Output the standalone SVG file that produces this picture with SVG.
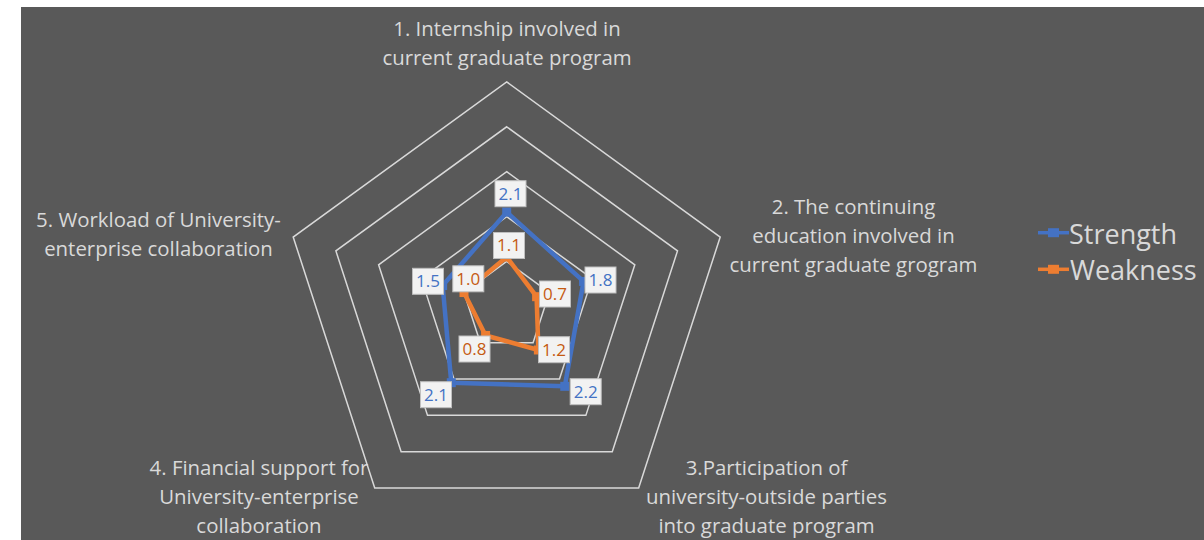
<svg xmlns="http://www.w3.org/2000/svg" width="1204" height="540" viewBox="0 0 1204 540">
<style>
.ring{fill:none;stroke:#d9d9d9;stroke-width:1.5}
.ax{font-family:"Open Sans","Noto Sans",sans-serif;font-size:20.4px;fill:#d9d9d9;text-anchor:middle}
.sb{fill:none;stroke:#4472C4;stroke-width:4.5;stroke-linejoin:round}
.so{fill:none;stroke:#ED7D31;stroke-width:4.5;stroke-linejoin:round}
.mb{fill:#4472C4}
.mo{fill:#ED7D31}
.box{fill:#f2f2f2;stroke:#bfbfbf;stroke-width:1}
.lb{font-family:"Open Sans","Noto Sans",sans-serif;font-size:17px;fill:#4472C4;text-anchor:middle}
.lo{font-family:"Open Sans","Noto Sans",sans-serif;font-size:17px;fill:#C55A11;text-anchor:middle}
.lg{font-family:"Open Sans","Noto Sans",sans-serif;font-size:27px;fill:#d9d9d9}
</style>
<rect x="0" y="0" width="1204" height="540" fill="#ffffff"/>
<rect x="21" y="7" width="1183" height="533" fill="#595959"/>
<g id="rings">
<polygon class="ring" points="506.7,261.5 549.4,292.53 533.09,342.72 480.31,342.72 464.0,292.53"/>
<polygon class="ring" points="506.7,216.6 592.11,278.65 559.48,379.05 453.92,379.05 421.29,278.65"/>
<polygon class="ring" points="506.7,171.7 634.81,264.78 585.87,415.37 427.53,415.37 378.59,264.78"/>
<polygon class="ring" points="506.7,126.8 677.51,250.9 612.27,451.7 401.13,451.7 335.89,250.9"/>
<polygon class="ring" points="506.7,81.9 720.21,237.03 638.66,488.02 374.74,488.02 293.19,237.03"/>
</g>
<g id="axis-labels">
<text class="ax" x="507" y="36">1. Internship involved in</text>
<text class="ax" x="507" y="64.5">current graduate program</text>
<text class="ax" x="853.5" y="214">2. The continuing</text>
<text class="ax" x="853.5" y="243">education involved in</text>
<text class="ax" x="853.5" y="272">current graduate grogram</text>
<text class="ax" x="766.5" y="475">3.Participation of</text>
<text class="ax" x="766.5" y="504">university-outside parties</text>
<text class="ax" x="766.5" y="533">into graduate program</text>
<text class="ax" x="259" y="475">4. Financial support for</text>
<text class="ax" x="259" y="504">University-enterprise</text>
<text class="ax" x="259" y="533">collaboration</text>
<text class="ax" x="158.5" y="227">5. Workload of University-</text>
<text class="ax" x="158.5" y="256">enterprise collaboration</text>
</g>
<g id="series-strength">
<polygon class="sb" points="506.7,212.11 583.57,281.43 564.76,386.31 451.28,382.68 442.65,285.59"/>
<rect class="mb" x="502.2" y="207.61" width="9" height="9"/>
<rect class="mb" x="579.07" y="276.93" width="9" height="9"/>
<rect class="mb" x="560.26" y="381.81" width="9" height="9"/>
<rect class="mb" x="446.78" y="378.18" width="9" height="9"/>
<rect class="mb" x="438.15" y="281.09" width="9" height="9"/>
</g>
<g id="series-weakness">
<polygon class="so" points="506.7,257.01 536.59,296.69 538.37,349.99 485.59,335.46 464.0,292.53"/>
<rect class="mo" x="502.2" y="252.51" width="9" height="9"/>
<rect class="mo" x="532.09" y="292.19" width="9" height="9"/>
<rect class="mo" x="533.87" y="345.49" width="9" height="9"/>
<rect class="mo" x="481.09" y="330.96" width="9" height="9"/>
<rect class="mo" x="459.5" y="288.03" width="9" height="9"/>
</g>
<g id="data-labels">
<rect class="box" x="495" y="180.7" width="31" height="26"/><text class="lb" x="510.5" y="199.6">2.1</text>
<rect class="box" x="585" y="267" width="31" height="26"/><text class="lb" x="600.5" y="285.9">1.8</text>
<rect class="box" x="570.2" y="378.7" width="31" height="26"/><text class="lb" x="585.7" y="397.6">2.2</text>
<rect class="box" x="420.5" y="381.7" width="31" height="26"/><text class="lb" x="436" y="400.6">2.1</text>
<rect class="box" x="412.5" y="268.3" width="31" height="26"/><text class="lb" x="428" y="287.2">1.5</text>
<rect class="box" x="493.5" y="232.5" width="31" height="26"/><text class="lo" x="509" y="251.4">1.1</text>
<rect class="box" x="539.5" y="281" width="31" height="26"/><text class="lo" x="555" y="299.9">0.7</text>
<rect class="box" x="538.5" y="336.7" width="31" height="26"/><text class="lo" x="554" y="355.6">1.2</text>
<rect class="box" x="459" y="336" width="31" height="26"/><text class="lo" x="474.5" y="354.9">0.8</text>
<rect class="box" x="452.8" y="265.8" width="31" height="26"/><text class="lo" x="468.3" y="284.7">1.0</text>
</g>
<g id="legend">
<line x1="1038" y1="232.7" x2="1069" y2="232.7" stroke="#4472C4" stroke-width="3.5"/>
<rect class="mb" x="1048" y="228.2" width="11" height="9"/>
<text class="lg" x="1069" y="243.5">Strength</text>
<line x1="1038" y1="269.3" x2="1069" y2="269.3" stroke="#ED7D31" stroke-width="3.5"/>
<rect class="mo" x="1048" y="264.8" width="11" height="9"/>
<text class="lg" x="1070" y="280">Weakness</text>
</g>
</svg>
